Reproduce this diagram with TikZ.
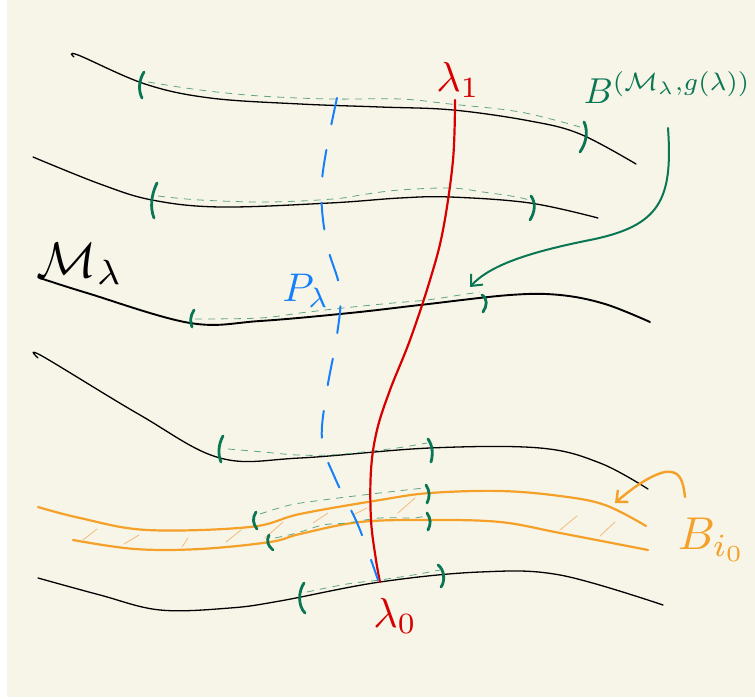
\documentclass[tikz,border=0pt]{standalone}
\usetikzlibrary{arrows.meta}
\definecolor{bg}{RGB}{247,245,232}
\definecolor{tkgreen}{RGB}{10,118,84}
\definecolor{dgreen}{RGB}{95,165,130}
\definecolor{lred}{RGB}{215,0,0}
\definecolor{lblue}{RGB}{22,128,250}
\definecolor{lorange}{RGB}{245,160,40}
\definecolor{hatchc}{RGB}{245,185,120}
\tikzset{
  mani/.style={black, line width=1.3pt, line cap=round},
  manithick/.style={black, line width=1.9pt, line cap=round},
  orangeline/.style={lorange, line width=2.2pt, line cap=round},
  gtick/.style={tkgreen, line width=2.8pt, line cap=round},
  gdash/.style={dgreen, line width=0.8pt, dash pattern=on 7pt off 6pt},
  hatchline/.style={hatchc, line width=0.8pt, line cap=round},
  redcurve/.style={lred, line width=2.2pt, line cap=round},
  bluedash/.style={lblue, line width=2pt, line cap=round, dash pattern=on 27pt off 26pt},
  lbl/.style={inner sep=0pt, outer sep=0pt}
}
\begin{document}
\begin{tikzpicture}[x=1pt,y=-1pt]
\fill[white] (0,0) rectangle (755,700);
\fill[bg] (7,0) rectangle (755,697);
\useasboundingbox (0,0) rectangle (755,700);

% black leaves
\draw[mani] plot[smooth,tension=0.6] coordinates {(74,57)(78,55)(145,84)(210,98)(300,104)(380,107)(453,110)(530,121)(580,134)(636,164)};
\draw[mani] plot[smooth,tension=0.6] coordinates {(33,157)(100,184)(152,200)(220,207)(330,203)(400,198)(450,197)(530,203)(598,218)};
\draw[manithick] plot[smooth,tension=0.6] coordinates {(40,278)(87,293)(190,323)(260,321)(350,313)(420,305)(510,295)(560,295)(605,304)(650,322)};
\draw[mani] plot[smooth,tension=0.6] coordinates {(38,358)(42,356)(140,415)(220,458)(300,458)(430,448)(540,448)(600,463)(648,489)};
\draw[mani] plot[smooth,tension=0.6] coordinates {(38,578)(100,595)(160,610)(230,608)(280,601)(380,582)(480,572)(560,575)(663,605)};

% orange band
\draw[orangeline] plot[smooth,tension=0.6] coordinates {(38,507)(80,518)(147,530)(250,527)(300,514)(380,500)(430,493)(500,491)(560,496)(605,505)(646,526)};
\draw[orangeline] plot[smooth,tension=0.6] coordinates {(73,540)(135,549)(200,549)(270,542)(300,534)(360,522)(430,520)(500,522)(560,533)(648,550)};
\foreach \a/\b/\c/\d in {83/540/97/529, 124/544/139/535, 182/547/188/538, 226/542/241/530, 265/538/283/522, 313/523/328/513, 353/515/367/508, 398/513/415/498, 560/530/577/516, 600/536/615/522}
  \draw[hatchline] (\a,\b) -- (\c,\d);

% green dashed balls
\draw[gdash] plot[smooth,tension=0.6] coordinates {(148,82)(200,90)(260,96)(330,99)(400,99)(450,104)(520,112)(580,127)};
\draw[gdash] plot[smooth,tension=0.6] coordinates {(158,196)(200,200)(267,202)(333,199)(367,194)(400,190)(450,188)(483,192)(517,197)(532,201)};
\draw[gdash] plot[smooth,tension=0.6] coordinates {(195,319)(260,318)(300,313)(343,308)(393,303)(427,300)(460,295)(480,292)};
\draw[gdash] plot[smooth,tension=0.6] coordinates {(228,449)(263,452)(297,455)(330,455)(363,452)(397,448)(427,443)};
\draw[gdash] plot[smooth,tension=0.6] coordinates {(260,514)(290,505)(323,500)(363,495)(397,491)(424,488)};
\draw[gdash] plot[smooth,tension=0.6] coordinates {(275,538)(297,533)(323,525)(347,523)(380,518)(413,518)(425,516)};
\draw[gdash] plot[smooth,tension=0.6] coordinates {(307,592)(347,584)(380,580)(413,575)(440,570)};

% green brackets
\draw[gtick] (144,72) .. controls (139,80) and (138,90) .. (142,98);
\draw[gtick] (584,122) .. controls (588,130) and (587,142) .. (580,152);
\draw[gtick] (157,183) .. controls (151,195) and (150,208) .. (154,218);
\draw[gtick] (531,196) .. controls (536,203) and (535,212) .. (530,220);
\draw[gtick] (194,310) .. controls (190,316) and (190,322) .. (192,327);
\draw[gtick] (482,295) .. controls (488,299) and (487,306) .. (483,312);
\draw[gtick] (223,436) .. controls (218,445) and (218,455) .. (221,462);
\draw[gtick] (428,439) .. controls (433,446) and (433,455) .. (431,462);
\draw[gtick] (256,512) .. controls (252,518) and (253,524) .. (257,529);
\draw[gtick] (426,485) .. controls (430,491) and (430,497) .. (427,503);
\draw[gtick] (269,535) .. controls (266,541) and (268,546) .. (273,550);
\draw[gtick] (427,513) .. controls (431,519) and (431,524) .. (428,530);
\draw[gtick] (304,583) .. controls (298,592) and (298,606) .. (305,613);
\draw[gtick] (438,565) .. controls (445,570) and (445,582) .. (441,587);

% red curve lambda
\draw[redcurve] plot[smooth,tension=0.6] coordinates {(455,100)(453,160)(443,230)(430,280)(410,340)(390,390)(377,430)(371,470)(371,520)(376,560)(380,582)};

% blue dashed P_lambda
\draw[bluedash] plot[smooth,tension=0.6] coordinates {(337,98)(322,180)(326,240)(340,290)(337,335)(327,390)(322,440)(335,478)(358,525)(378,580)};

% arrows
\draw[tkgreen, line width=2pt, line cap=round, -{Straight Barb[length=9pt,width=16pt]}]
  (668,128) .. controls (673,200) and (660,226) .. (590,240) .. controls (530,252) and (490,265) .. (470,287);
\draw[lorange, line width=2.4pt, line cap=round, -{Straight Barb[length=9pt,width=16pt]}]
  (685,497) .. controls (683,480) and (680,470) .. (665,472) .. controls (650,475) and (630,490) .. (615,503);

% labels
\node[lbl, black, scale=5] (Mlab) at (80,264) {$\mathcal{M}_{\lambda}$};
\node[lbl, lblue, scale=4] (Plab) at (306,291) {$P_{\lambda}$};
\node[lbl, lred, scale=4.2] (l1lab) at (458,80) {$\lambda_{1}$};
\node[lbl, lred, scale=4.2] (l0lab) at (395,616) {$\lambda_{0}$};
\node[lbl, tkgreen, scale=3.6, anchor=east] (Blab) at (751,88) {$B^{(\mathcal{M}_{\lambda},g(\lambda))}$};
\node[lbl, lorange, scale=4.6] (Bilab) at (712,540) {$B_{i_0}$};
\end{tikzpicture}
\end{document}
